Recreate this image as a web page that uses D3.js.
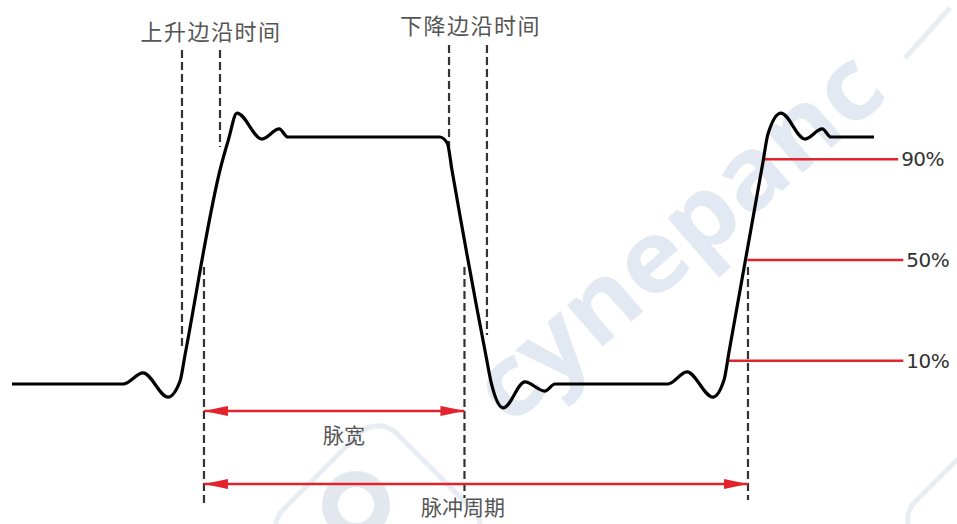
<!DOCTYPE html>
<html>
<head>
<meta charset="utf-8">
<script src="https://cdn.jsdelivr.net/npm/d3@7"></script>
<style>
  body { margin: 0; background: #fff; }
  svg { display: block; }
</style>
</head>
<body>
<div id="chart"></div>
<script>
// waveform samples: time (0-100) and level (% of pulse amplitude)
const waveT = [0, 12.9, 15.2, 18.1, 19.5, 20.07, 24.25, 25.1, 26.1, 29.0, 31.0, 32.0, 33.2,
  49.6, 50.5, 51.04, 54.99, 55.6, 57.0, 59.5, 61.8, 63.0,
  76.1, 78.3, 81.3, 82.6, 83.18, 87.12, 87.7, 89.2, 92.0, 94.0, 95.0, 100];
const waveV = [0.8, 0.8, 5.2, -4.4, 2.0, 12.3, 87.3, 97.6, 108.3, 98.0, 102.0, 98.8, 98.8,
  98.8, 96.4, 85.7, 11.9, 1.2, -8.7, 1.6, -2.0, 0.8,
  0.8, 5.6, -4.4, 2.4, 13.5, 88.9, 100, 108.3, 98.0, 102.0, 98.8, 98.8];

// reference levels
const levelNames = ["90%", "50%", "10%"];
const levelValues = [90, 50, 10];
const levelStart = [87.1, 85.3, 83.0];
const levelEnd = [102.8, 103.4, 103.4];

// dashed markers: time, top level, bottom level
const markerT = [19.72, 24.13, 22.27, 50.70, 55.10, 52.49, 85.38];
const markerTop = [133.3, 133.3, 47.2, 135.3, 135.3, 47.2, 47.2];
const markerBottom = [15.5, 94.8, -47.2, 94.4, 20.2, -44.4, -45.2];

// measurement arrows
const arrowNames = ["脉宽", "脉冲周期"];
const arrowFrom = [22.27, 22.27];
const arrowTo = [52.49, 85.38];
const arrowLevel = [-9.9, -38.9];

// edge labels
const edgeNames = ["上升边沿时间", "下降边沿时间"];
const edgeT = [23.1, 53.2];

const width = 957, height = 524;
const red = "#e3232b";

const x = d3.scaleLinear().domain([0, 100]).range([12, 874]);
const y = d3.scaleLinear().domain([0, 100]).range([386, 134]);

const svg = d3.select("#chart").append("svg")
  .attr("width", width)
  .attr("height", height);

// faint watermark behind everything
const wm = svg.append("g").attr("class", "watermark");
wm.append("text")
  .attr("transform", "translate(700,262) rotate(-41)")
  .attr("text-anchor", "middle")
  .attr("textLength", 505)
  .attr("lengthAdjust", "spacingAndGlyphs")
  .style("font-family", "'Open Sans', sans-serif")
  .style("font-weight", 700)
  .style("font-size", "100px")
  .style("fill", "#e2e9f2")
  .text("cynepanc");
wm.append("rect")
  .attr("x", -80).attr("y", -80).attr("width", 160).attr("height", 160)
  .attr("rx", 26)
  .attr("transform", "translate(378,528) rotate(45)")
  .style("fill", "none").style("stroke", "#e8edf3").style("stroke-width", 5);
wm.append("circle")
  .attr("cx", 356).attr("cy", 505).attr("r", 26)
  .style("fill", "none").style("stroke", "#e3e8ee").style("stroke-width", 16);
wm.append("rect")
  .attr("x", -80).attr("y", -80).attr("width", 160).attr("height", 160)
  .attr("rx", 26)
  .attr("transform", "translate(1010,520) rotate(45)")
  .style("fill", "none").style("stroke", "#e8edf3").style("stroke-width", 5);
wm.append("line")
  .attr("x1", 905).attr("y1", 58).attr("x2", 950).attr("y2", 8)
  .style("stroke", "#e8edf3").style("stroke-width", 5);

// arrow heads
const defs = svg.append("defs");
defs.append("marker")
  .attr("id", "head")
  .attr("viewBox", "0 0 24 10")
  .attr("refX", 24).attr("refY", 5)
  .attr("markerUnits", "userSpaceOnUse")
  .attr("markerWidth", 24).attr("markerHeight", 10)
  .attr("orient", "auto-start-reverse")
  .append("path")
  .attr("d", "M0,0L24,5L0,10Z")
  .style("fill", red);

// dashed markers
svg.append("g").selectAll("line")
  .data(markerT)
  .join("line")
  .attr("x1", d => x(d)).attr("x2", d => x(d))
  .attr("y1", (d, i) => y(markerTop[i]))
  .attr("y2", (d, i) => y(markerBottom[i]))
  .style("stroke", "#333")
  .style("stroke-width", 2.2)
  .style("stroke-dasharray", "8,4");

// level lines
svg.append("g").selectAll("line")
  .data(levelValues)
  .join("line")
  .attr("x1", (d, i) => x(levelStart[i]))
  .attr("x2", (d, i) => x(levelEnd[i]))
  .attr("y1", d => y(d)).attr("y2", d => y(d))
  .style("stroke", red)
  .style("stroke-width", 2.5);

svg.append("g").selectAll("text")
  .data(levelNames)
  .join("text")
  .attr("x", (d, i) => x(levelEnd[i]) + 3)
  .attr("y", (d, i) => y(levelValues[i]) + 7)
  .style("font-family", "'DejaVu Sans', sans-serif")
  .style("font-size", "20px")
  .style("letter-spacing", "-0.5px")
  .style("fill", "#333")
  .text(d => d);

// waveform
const line = d3.line()
  .x(i => x(waveT[i]))
  .y(i => y(waveV[i]))
  .curve(d3.curveMonotoneX);

svg.append("path")
  .datum(d3.range(waveT.length))
  .attr("d", line)
  .style("fill", "none")
  .style("stroke", "#000")
  .style("stroke-width", 3.2)
  .style("stroke-linejoin", "round");

// measurement arrows
svg.append("g").selectAll("line")
  .data(arrowLevel)
  .join("line")
  .attr("x1", (d, i) => x(arrowFrom[i]))
  .attr("x2", (d, i) => x(arrowTo[i]))
  .attr("y1", d => y(d)).attr("y2", d => y(d))
  .attr("marker-start", "url(#head)")
  .attr("marker-end", "url(#head)")
  .style("stroke", red)
  .style("stroke-width", 2.5);

const cjk = "'Noto Sans CJK SC', sans-serif";

svg.append("text")
  .attr("x", 344).attr("y", y(arrowLevel[0]) + 32)
  .attr("text-anchor", "middle")
  .style("font-family", cjk).style("font-size", "21px").style("fill", "#555")
  .text(arrowNames[0]);

svg.append("text")
  .attr("x", 463).attr("y", y(arrowLevel[1]) + 31)
  .attr("text-anchor", "middle")
  .style("font-family", cjk).style("font-size", "21px").style("fill", "#555")
  .text(arrowNames[1]);

// edge labels
svg.append("g").selectAll("text")
  .data(edgeNames)
  .join("text")
  .attr("x", (d, i) => x(edgeT[i]))
  .attr("y", (d, i) => i === 0 ? 40 : 34)
  .attr("text-anchor", "middle")
  .style("font-family", cjk)
  .style("font-size", "22px")
  .style("letter-spacing", "1.5px")
  .style("fill", "#555")
  .text(d => d);
</script>
</body>
</html>
